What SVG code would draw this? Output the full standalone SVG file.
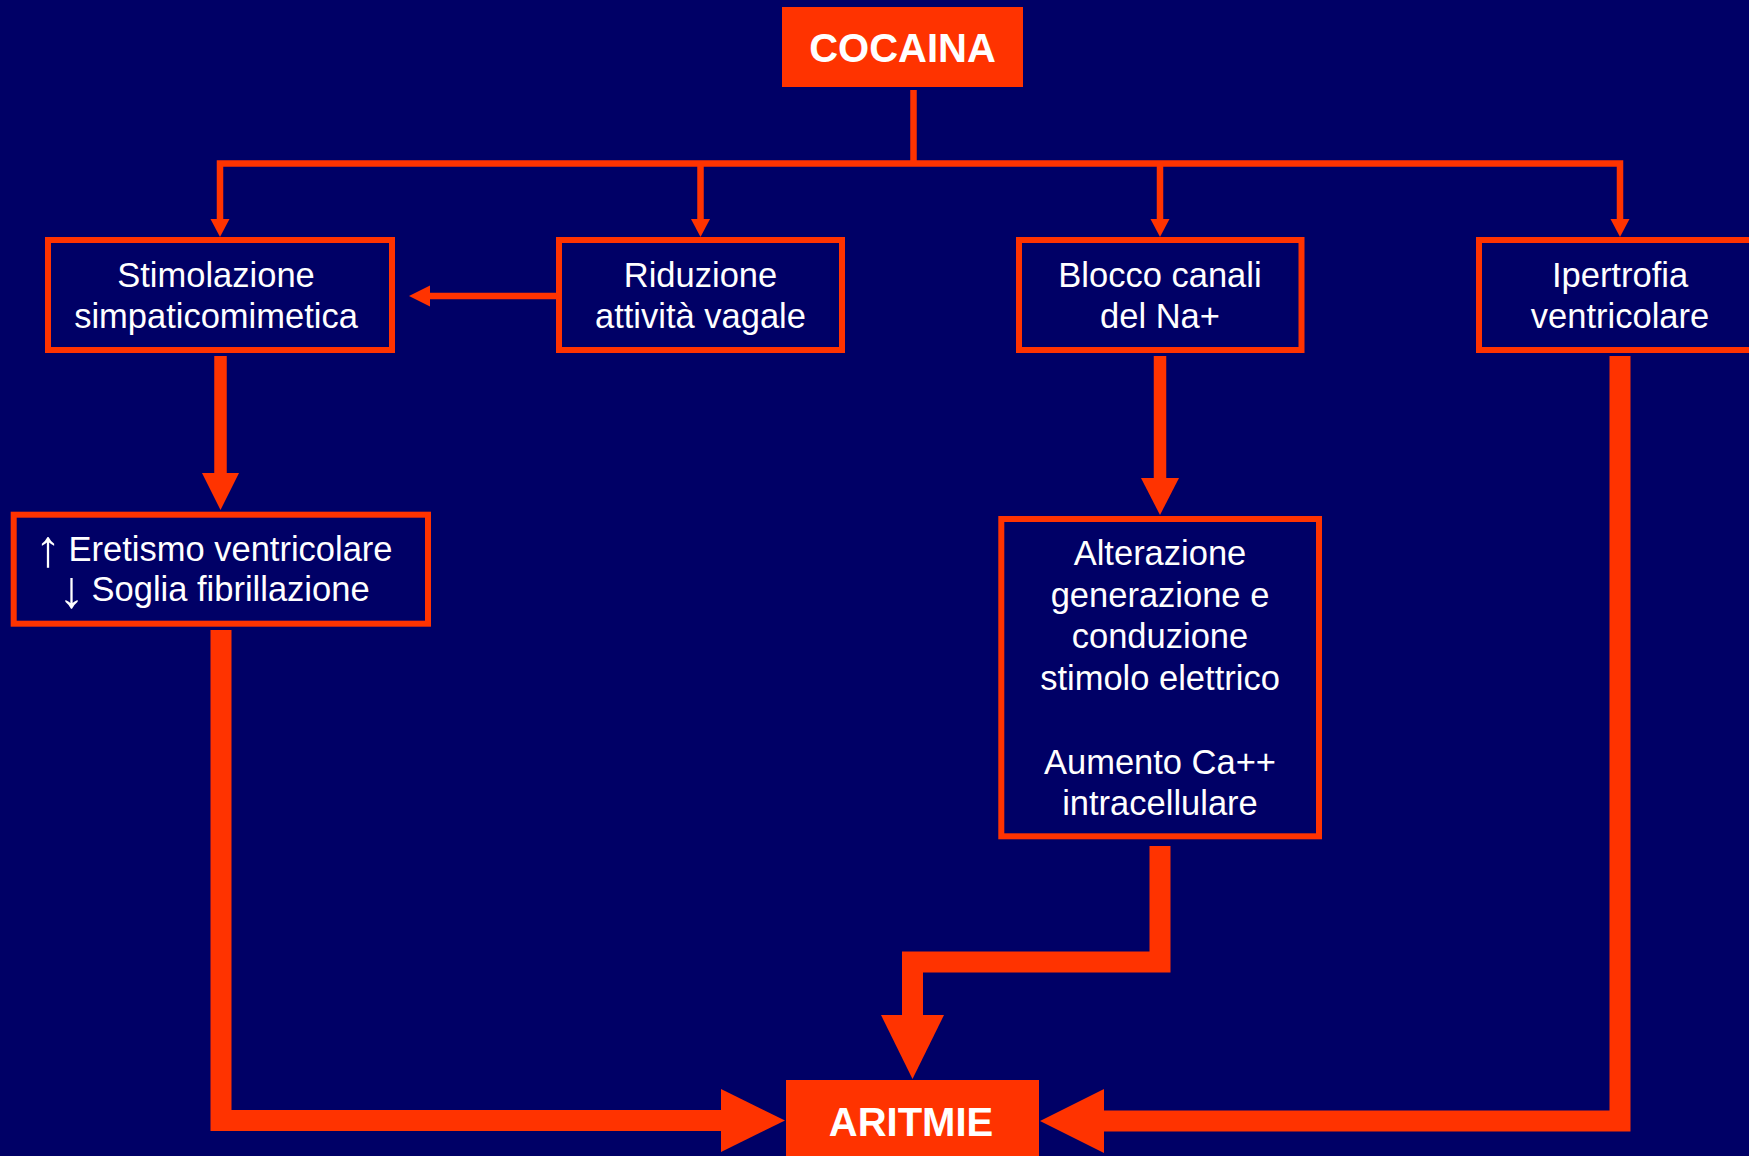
<svg xmlns="http://www.w3.org/2000/svg" width="1749" height="1156" viewBox="0 0 1749 1156">
<style>
.bg{fill:#000066}
.box{fill:#000066;stroke:#FF3300;stroke-width:6}
.solid{fill:#FF3300}
.t{font-family:"Liberation Sans",Arial,sans-serif;font-size:34.5px;fill:#FFFFFF;text-anchor:middle}
.ts{font-family:"Liberation Sans",Arial,sans-serif;font-size:34.5px;fill:#FFFFFF;text-anchor:start}
.ar{font-family:"Liberation Sans",Arial,sans-serif;font-size:52px;fill:#FFFFFF;text-anchor:middle}
.tb{font-family:"Liberation Sans",Arial,sans-serif;font-size:40px;font-weight:bold;fill:#FFFFFF;text-anchor:middle}
.thin{fill:none;stroke:#FF3300;stroke-width:6.5;stroke-linecap:butt;stroke-linejoin:miter}
.mid{fill:none;stroke:#FF3300;stroke-width:12.5;stroke-linecap:butt}
.thick{fill:none;stroke:#FF3300;stroke-width:21;stroke-linecap:butt;stroke-linejoin:miter}
.head{fill:#FF3300}
</style>
<rect class="bg" x="0" y="0" width="1749" height="1156"/>
<g id="connectors">
  <path class="thin" d="M913.5 90 V163.5"/>
  <path class="thin" d="M220 220 V163.5 H1620 V220"/>
  <path class="thin" d="M700.5 163.5 V220"/>
  <path class="thin" d="M1160 163.5 V220"/>
  <polygon class="head" points="210.5,219 229.5,219 220,237"/>
  <polygon class="head" points="691,219 710,219 700.5,237"/>
  <polygon class="head" points="1150.5,219 1169.5,219 1160,237"/>
  <polygon class="head" points="1610.5,219 1629.5,219 1620,237"/>
  <path class="thin" d="M556 296 H429"/>
  <polygon class="head" points="430,285.5 430,306.5 409,296"/>
  <path class="mid" d="M220.5 356 V474"/>
  <polygon class="head" points="202,473 239,473 220.5,510"/>
  <path class="mid" d="M1160 356 V479"/>
  <polygon class="head" points="1141,478 1179,478 1160,515"/>
  <path class="thick" d="M221 630 V1120.5 H722"/>
  <polygon class="head" points="721,1089 785,1120.5 721,1152"/>
  <path class="thick" d="M1160 846 V962 H912.5 V1016"/>
  <polygon class="head" points="881,1015 944,1015 912.5,1079"/>
  <path class="thick" d="M1620 356 V1121 H1103"/>
  <polygon class="head" points="1104,1089 1040,1121 1104,1153"/>
</g>
<g id="cocaina">
  <rect class="solid" x="782" y="7" width="241" height="80"/>
  <text class="tb" x="902.5" y="62">COCAINA</text>
</g>
<g id="stimolazione">
  <rect class="box" x="48" y="240" width="344" height="110"/>
  <text class="t" x="216" y="287">Stimolazione</text>
  <text class="t" x="216" y="328">simpaticomimetica</text>
</g>
<g id="riduzione">
  <rect class="box" x="559" y="240" width="283" height="110"/>
  <text class="t" x="700.5" y="287">Riduzione</text>
  <text class="t" x="700.5" y="328">attività vagale</text>
</g>
<g id="blocco">
  <rect class="box" x="1019" y="240" width="282.5" height="110"/>
  <text class="t" x="1160" y="287">Blocco canali</text>
  <text class="t" x="1160" y="328">del Na+</text>
</g>
<g id="ipertrofia">
  <rect class="box" x="1479" y="240" width="282" height="110"/>
  <text class="t" x="1620" y="287">Ipertrofia</text>
  <text class="t" x="1620" y="328">ventricolare</text>
</g>
<g id="eretismo">
  <rect class="box" x="13.7" y="514.7" width="414.3" height="109"/>
  <text class="ar" x="48" y="566">↑</text>
  <text class="ts" x="68.5" y="561">Eretismo ventricolare</text>
  <text class="ar" x="71.5" y="607">↓</text>
  <text class="ts" x="91.5" y="601">Soglia fibrillazione</text>
</g>
<g id="alterazione">
  <rect class="box" x="1001.3" y="519" width="317.7" height="317.3"/>
  <text class="t" x="1160" y="565">Alterazione</text>
  <text class="t" x="1160" y="606.5">generazione e</text>
  <text class="t" x="1160" y="648">conduzione</text>
  <text class="t" x="1160" y="690">stimolo elettrico</text>
  <text class="t" x="1160" y="774">Aumento Ca++</text>
  <text class="t" x="1160" y="815">intracellulare</text>
</g>
<g id="aritmie">
  <rect class="solid" x="786" y="1080" width="253" height="80"/>
  <text class="tb" x="911" y="1136">ARITMIE</text>
</g>
</svg>
